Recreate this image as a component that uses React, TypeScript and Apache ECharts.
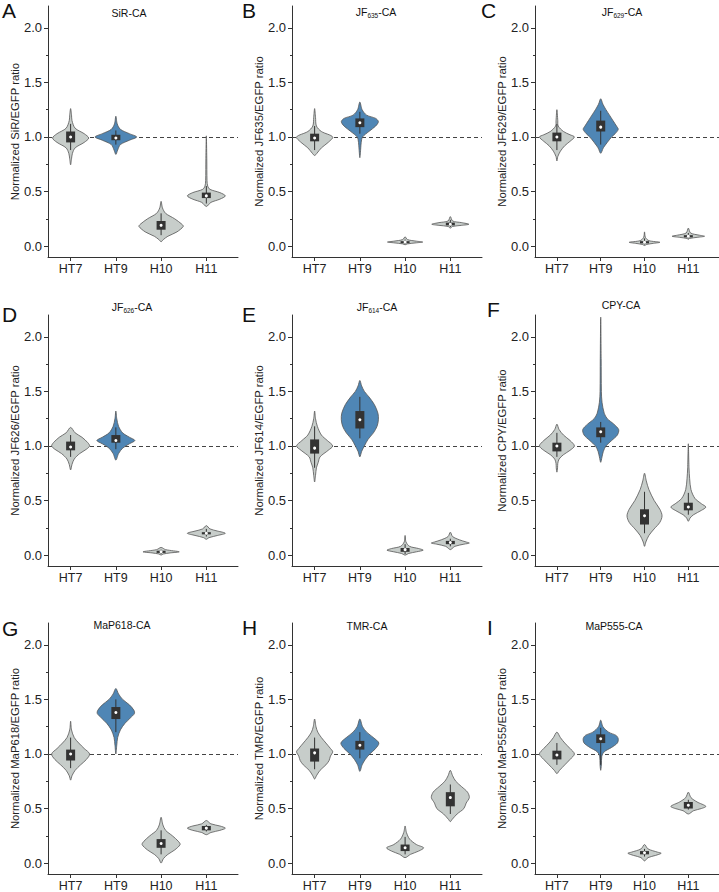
import React, { useEffect, useRef } from "react";
import * as echarts from "echarts";

const FONT = "'Liberation Sans', Arial, Helvetica, sans-serif";

// ---------- data ----------
const categories = ["HT7", "HT9", "H10", "H11"];
const highlighted = [false, true, false, false];
const panelLetters = ["A", "B", "C", "D", "E", "F", "G", "H", "I"];
const panelTitles = ["SiR-CA", "JF{s|635}-CA", "JF{s|629}-CA", "JF{s|626}-CA", "JF{s|614}-CA", "CPY-CA", "MaP618-CA", "TMR-CA", "MaP555-CA"];
const yAxisNames = [
  "Normalized SiR/EGFP ratio",
  "Normalized JF635/EGFP ratio",
  "Normalized JF629/EGFP ratio",
  "Normalized JF626/EGFP ratio",
  "Normalized JF614/EGFP ratio",
  "Normalized CPY/EGFP ratio",
  "Normalized MaP618/EGFP ratio",
  "Normalized TMR/EGFP ratio",
  "Normalized MaP555/EGFP ratio",
];
const yMajorTicks = [0, 0.5, 1, 1.5, 2];
const yMinorTicks = [0.25, 0.75, 1.25, 1.75];
const referenceRatio = 1.0;

// violin outlines: [ratio value, half width (category units)]
const profA = [
  [[1.26, 0], [1.2, 0.02], [1.15, 0.03], [1.08, 0.1], [1.03, 0.3], [0.99, 0.4], [0.95, 0.3], [0.9, 0.1], [0.85, 0.04], [0.8, 0.02], [0.745, 0]],
  [[1.19, 0], [1.12, 0.03], [1.07, 0.1], [1.03, 0.3], [1.0, 0.46], [0.97, 0.3], [0.93, 0.1], [0.88, 0.04], [0.84, 0]],
  [[0.41, 0], [0.35, 0.03], [0.3, 0.1], [0.25, 0.3], [0.2, 0.46], [0.18, 0.49], [0.13, 0.35], [0.09, 0.15], [0.06, 0.05], [0.04, 0]],
  [[1.01, 0], [0.8, 0.01], [0.6, 0.015], [0.55, 0.03], [0.52, 0.08], [0.49, 0.3], [0.46, 0.42], [0.43, 0.3], [0.4, 0.1], [0.363, 0]],
];
const profB = [
  [[1.26, 0], [1.18, 0.02], [1.1, 0.04], [1.05, 0.15], [1.0, 0.4], [0.95, 0.3], [0.9, 0.15], [0.85, 0.05], [0.83, 0]],
  [[1.32, 0], [1.25, 0.05], [1.2, 0.15], [1.17, 0.35], [1.14, 0.41], [1.1, 0.35], [1.05, 0.2], [1.0, 0.06], [0.95, 0.03], [0.9, 0.02], [0.81, 0]],
  [[0.085, 0], [0.06, 0.05], [0.045, 0.25], [0.037, 0.39], [0.03, 0.25], [0.02, 0.05], [0.012, 0]],
  [[0.27, 0], [0.23, 0.05], [0.215, 0.25], [0.2, 0.41], [0.19, 0.25], [0.18, 0.05], [0.165, 0]],
];
const profC = [
  [[1.25, 0], [1.15, 0.02], [1.1, 0.03], [1.05, 0.15], [1.02, 0.3], [1.0, 0.4], [0.96, 0.3], [0.92, 0.18], [0.87, 0.08], [0.82, 0.02], [0.78, 0]],
  [[1.35, 0], [1.3, 0.05], [1.25, 0.12], [1.2, 0.2], [1.15, 0.28], [1.1, 0.36], [1.07, 0.4], [1.03, 0.33], [1.0, 0.25], [0.95, 0.15], [0.9, 0.06], [0.85, 0]],
  [[0.13, 0], [0.08, 0.02], [0.05, 0.1], [0.035, 0.35], [0.025, 0.2], [0.015, 0.05], [0.005, 0]],
  [[0.165, 0], [0.12, 0.05], [0.1, 0.25], [0.09, 0.37], [0.08, 0.2], [0.07, 0.03], [0.062, 0]],
];
const profD = [
  [[1.17, 0], [1.12, 0.1], [1.08, 0.25], [1.03, 0.38], [1.0, 0.42], [0.97, 0.35], [0.93, 0.2], [0.88, 0.08], [0.83, 0.03], [0.78, 0]],
  [[1.32, 0], [1.25, 0.02], [1.18, 0.06], [1.12, 0.15], [1.08, 0.3], [1.05, 0.42], [1.02, 0.3], [0.98, 0.15], [0.93, 0.06], [0.87, 0]],
  [[0.07, 0], [0.05, 0.1], [0.03, 0.4], [0.02, 0.2], [0.01, 0.05], [0.0, 0]],
  [[0.27, 0], [0.24, 0.08], [0.22, 0.25], [0.2, 0.42], [0.18, 0.25], [0.16, 0.06], [0.145, 0]],
];
const profE = [
  [[1.32, 0], [1.25, 0.02], [1.18, 0.06], [1.1, 0.15], [1.05, 0.28], [1.0, 0.4], [0.96, 0.3], [0.9, 0.12], [0.85, 0.08], [0.8, 0.04], [0.73, 0.02], [0.67, 0]],
  [[1.6, 0], [1.55, 0.04], [1.5, 0.1], [1.45, 0.2], [1.38, 0.32], [1.3, 0.4], [1.24, 0.41], [1.18, 0.38], [1.12, 0.3], [1.06, 0.18], [1.0, 0.1], [0.95, 0.04], [0.9, 0]],
  [[0.18, 0], [0.12, 0.02], [0.08, 0.1], [0.06, 0.3], [0.045, 0.4], [0.03, 0.25], [0.015, 0.08], [0.0, 0]],
  [[0.21, 0], [0.17, 0.05], [0.14, 0.2], [0.12, 0.35], [0.11, 0.42], [0.1, 0.3], [0.08, 0.1], [0.06, 0.04], [0.05, 0]],
];
const profF = [
  [[1.2, 0], [1.15, 0.05], [1.1, 0.15], [1.05, 0.3], [1.0, 0.4], [0.96, 0.3], [0.92, 0.15], [0.88, 0.05], [0.84, 0.02], [0.8, 0.015], [0.76, 0]],
  [[2.18, 0], [1.8, 0.01], [1.5, 0.015], [1.4, 0.03], [1.3, 0.08], [1.25, 0.15], [1.2, 0.3], [1.15, 0.41], [1.1, 0.38], [1.05, 0.25], [1.0, 0.12], [0.95, 0.06], [0.9, 0.03], [0.85, 0]],
  [[0.75, 0], [0.68, 0.04], [0.6, 0.1], [0.5, 0.22], [0.42, 0.35], [0.36, 0.4], [0.3, 0.35], [0.24, 0.22], [0.18, 0.1], [0.12, 0.03], [0.08, 0]],
  [[1.02, 0], [0.8, 0.015], [0.7, 0.03], [0.6, 0.06], [0.52, 0.15], [0.47, 0.3], [0.44, 0.4], [0.41, 0.3], [0.37, 0.12], [0.34, 0.04], [0.31, 0]],
];
const profG = [
  [[1.3, 0], [1.22, 0.02], [1.15, 0.08], [1.1, 0.18], [1.05, 0.3], [1.0, 0.42], [0.95, 0.35], [0.9, 0.22], [0.85, 0.1], [0.8, 0.03], [0.76, 0]],
  [[1.6, 0], [1.55, 0.06], [1.5, 0.15], [1.45, 0.3], [1.4, 0.4], [1.37, 0.41], [1.33, 0.32], [1.28, 0.2], [1.22, 0.1], [1.15, 0.04], [1.08, 0.02], [1.0, 0]],
  [[0.42, 0], [0.35, 0.04], [0.3, 0.1], [0.25, 0.25], [0.2, 0.38], [0.17, 0.42], [0.12, 0.3], [0.08, 0.15], [0.04, 0.05], [0.0, 0]],
  [[0.39, 0], [0.36, 0.1], [0.34, 0.3], [0.32, 0.42], [0.3, 0.3], [0.28, 0.1], [0.26, 0]],
];
const profH = [
  [[1.32, 0], [1.25, 0.03], [1.2, 0.07], [1.15, 0.15], [1.1, 0.25], [1.05, 0.35], [1.02, 0.4], [0.98, 0.35], [0.94, 0.32], [0.9, 0.25], [0.85, 0.12], [0.8, 0.04], [0.77, 0]],
  [[1.32, 0], [1.25, 0.06], [1.2, 0.15], [1.15, 0.3], [1.1, 0.42], [1.05, 0.35], [1.0, 0.22], [0.95, 0.12], [0.9, 0.05], [0.84, 0]],
  [[0.34, 0], [0.28, 0.03], [0.22, 0.1], [0.17, 0.25], [0.14, 0.41], [0.11, 0.3], [0.08, 0.12], [0.05, 0]],
  [[0.85, 0], [0.8, 0.05], [0.75, 0.12], [0.7, 0.25], [0.65, 0.38], [0.6, 0.42], [0.55, 0.35], [0.5, 0.3], [0.45, 0.15], [0.4, 0.04], [0.38, 0]],
];
const profI = [
  [[1.2, 0], [1.15, 0.08], [1.1, 0.18], [1.05, 0.3], [1.0, 0.4], [0.95, 0.3], [0.9, 0.18], [0.85, 0.06], [0.82, 0]],
  [[1.31, 0], [1.25, 0.05], [1.2, 0.18], [1.17, 0.35], [1.14, 0.4], [1.1, 0.38], [1.06, 0.25], [1.02, 0.08], [0.98, 0.025], [0.9, 0.015], [0.85, 0]],
  [[0.17, 0], [0.13, 0.08], [0.1, 0.3], [0.09, 0.38], [0.07, 0.25], [0.05, 0.08], [0.02, 0]],
  [[0.65, 0], [0.6, 0.06], [0.56, 0.2], [0.52, 0.4], [0.5, 0.3], [0.48, 0.12], [0.45, 0]],
];

// box stats: [whisker low, Q1, mean, Q3, whisker high]
const boxA = [[0.88, 0.95, 1.0, 1.05, 1.12], [0.93, 0.97, 0.99, 1.02, 1.06], [0.1, 0.15, 0.19, 0.23, 0.3], [0.39, 0.44, 0.46, 0.49, 0.55]];
const boxB = [[0.88, 0.96, 0.99, 1.03, 1.1], [1.03, 1.09, 1.13, 1.17, 1.23], [0.02, 0.03, 0.037, 0.045, 0.06], [0.175, 0.19, 0.2, 0.215, 0.24]];
const boxC = [[0.88, 0.96, 1.0, 1.04, 1.12], [0.93, 1.05, 1.09, 1.15, 1.24], [0.015, 0.025, 0.035, 0.045, 0.07], [0.07, 0.08, 0.09, 0.1, 0.12]];
const boxD = [[0.9, 0.96, 0.99, 1.04, 1.1], [0.97, 1.03, 1.05, 1.1, 1.17], [0.01, 0.02, 0.03, 0.04, 0.05], [0.17, 0.19, 0.2, 0.21, 0.24]];
const boxE = [[0.8, 0.93, 0.98, 1.06, 1.18], [1.07, 1.16, 1.24, 1.32, 1.45], [0.01, 0.03, 0.05, 0.065, 0.1], [0.08, 0.1, 0.115, 0.13, 0.15]];
const boxF = [[0.9, 0.95, 1.0, 1.03, 1.12], [1.03, 1.08, 1.13, 1.17, 1.22], [0.2, 0.28, 0.36, 0.42, 0.58], [0.37, 0.41, 0.44, 0.48, 0.57]];
const boxG = [[0.87, 0.94, 1.0, 1.04, 1.15], [1.2, 1.32, 1.38, 1.43, 1.5], [0.08, 0.14, 0.18, 0.22, 0.3], [0.29, 0.3, 0.32, 0.34, 0.35]];
const boxH = [[0.86, 0.93, 1.01, 1.05, 1.15], [0.96, 1.04, 1.08, 1.12, 1.2], [0.08, 0.11, 0.14, 0.17, 0.24], [0.45, 0.52, 0.6, 0.65, 0.72]];
const boxI = [[0.9, 0.95, 0.99, 1.03, 1.1], [0.9, 1.1, 1.14, 1.18, 1.24], [0.06, 0.08, 0.095, 0.11, 0.13], [0.49, 0.5, 0.53, 0.56, 0.58]];

const panelProfiles = [profA, profB, profC, profD, profE, profF, profG, profH, profI];
const panelBoxes = [boxA, boxB, boxC, boxD, boxE, boxF, boxG, boxH, boxI];

// ---------- layout ----------
const colLeft = [48, 292, 535];
const rowTop = [6, 315, 623];
const GRID_W = 190;
const GRID_H = 251;
const titlePos = [[129, 13], [376, 12], [622, 12], [132, 307], [377, 307], [621, 305], [122, 625], [367, 626], [614, 626]];
const letterPos = [[2, 10], [242, 10], [481, 10], [2, 314], [242, 314], [487, 309], [2, 628], [242, 627], [487, 627]];

const GRAY = "#c7cdca";
const BLUE = "#4f86b5";
const TEXT = "#222";

function buildOption() {
  const grid: any[] = [];
  const xAxis: any[] = [];
  const yAxis: any[] = [];
  const series: any[] = [];
  panelTitles.forEach((_, i) => {
    const col = i % 3;
    const row = Math.floor(i / 3);
    grid.push({ left: colLeft[col], top: rowTop[row], width: GRID_W, height: GRID_H });
    xAxis.push({
      type: "value",
      gridIndex: i,
      min: 0.5,
      max: 4.7,
      axisLine: { show: true, onZero: false, lineStyle: { color: "#333", width: 1 } },
      axisTick: { show: true, customValues: [1, 2, 3, 4], length: 4, lineStyle: { color: "#333" } },
      axisLabel: {
        customValues: [1, 2, 3, 4],
        formatter: (v: number) => categories[Math.round(v) - 1] ?? "",
        color: TEXT,
        fontSize: 12.5,
        fontFamily: FONT,
        margin: 5,
      },
      splitLine: { show: false },
    });
    yAxis.push({
      type: "value",
      gridIndex: i,
      min: -0.1,
      max: 2.2,
      position: "left",
      axisLine: { show: true, onZero: false, lineStyle: { color: "#333", width: 1 } },
      axisTick: { show: true, customValues: yMajorTicks, length: 4, lineStyle: { color: "#333" } },
      axisLabel: {
        customValues: yMajorTicks,
        formatter: (v: number) => v.toFixed(1),
        color: TEXT,
        fontSize: 13,
        fontFamily: FONT,
        margin: 6,
      },
      splitLine: { show: false },
      name: yAxisNames[i],
      nameLocation: "middle",
      nameGap: 25,
      nameTextStyle: { color: TEXT, fontSize: 11.3, fontFamily: FONT },
    });
    yAxis.push({
      type: "value",
      gridIndex: i,
      min: -0.1,
      max: 2.2,
      position: "left",
      axisLine: { show: false, onZero: false },
      axisTick: { show: true, customValues: yMinorTicks, length: 2, lineStyle: { color: "#333" } },
      axisLabel: { show: false },
      splitLine: { show: false },
    });

    series.push({
      type: "line",
      xAxisIndex: i,
      yAxisIndex: 2 * i,
      data: [],
      z: 1,
      silent: true,
      markLine: {
        z: 1,
        silent: true,
        symbol: ["none", "none"],
        label: { show: false },
        lineStyle: { type: [4, 3], color: "#444", width: 1 },
        data: [{ yAxis: referenceRatio }],
      },
    });

    const profiles = panelProfiles[i];
    const boxes = panelBoxes[i];
    series.push({
      type: "custom",
      xAxisIndex: i,
      yAxisIndex: 2 * i,
      z: 3,
      silent: true,
      data: categories.map((_, k) => [k + 1, boxes[k][2]]),
      encode: { x: 0, y: 1 },
      renderItem: (params: any, api: any) => {
        const k = params.dataIndex;
        const cx = k + 1;
        const prof = profiles[k];
        const box = boxes[k];
        const right = prof.map(([v, w]: number[]) => api.coord([cx + w, v]));
        const left = prof
          .filter(([, w]: number[]) => w > 0)
          .slice()
          .reverse()
          .map(([v, w]: number[]) => api.coord([cx - w, v]));
        const points = right.concat(left);
        const center = api.coord([cx, box[2]]);
        const lo = api.coord([cx, box[0]]);
        const q1 = api.coord([cx, box[1]]);
        const q3 = api.coord([cx, box[3]]);
        const hi = api.coord([cx, box[4]]);
        const bw = 9;
        return {
          type: "group",
          children: [
            {
              type: "polygon",
              shape: { points, smooth: 0.3 },
              style: { fill: highlighted[k] ? BLUE : GRAY, stroke: "#555", lineWidth: 0.8 },
            },
            {
              type: "line",
              shape: { x1: center[0], y1: lo[1], x2: center[0], y2: hi[1] },
              style: { stroke: "#333", lineWidth: 1 },
            },
            {
              type: "rect",
              shape: { x: center[0] - bw / 2, y: q3[1], width: bw, height: Math.max(q1[1] - q3[1], 2) },
              style: { fill: "#333" },
            },
            {
              type: "circle",
              shape: { cx: center[0], cy: center[1], r: 1.5 },
              style: { fill: "#fff" },
            },
          ],
        };
      },
    });
  });

  const graphic: any[] = [];
  panelLetters.forEach((L, i) => {
    graphic.push({
      type: "text",
      x: letterPos[i][0],
      y: letterPos[i][1],
      style: { text: L, fontSize: 21, fontFamily: FONT, fill: "#111", align: "left", verticalAlign: "middle" },
    });
  });
  panelTitles.forEach((t, i) => {
    graphic.push({
      type: "text",
      x: titlePos[i][0],
      y: titlePos[i][1],
      style: {
        text: t,
        fontSize: 10.5,
        lineHeight: 13,
        fontFamily: FONT,
        fill: "#111",
        align: "center",
        verticalAlign: "middle",
        rich: { s: { fontSize: 6.5, lineHeight: 4, verticalAlign: "bottom", fontFamily: FONT, fill: "#111" } },
      },
    });
  });

  return {
    animation: false,
    backgroundColor: "#ffffff",
    grid,
    xAxis,
    yAxis,
    series,
    graphic,
  };
}

export default function App() {
  const ref = useRef<HTMLDivElement>(null);
  useEffect(() => {
    if (!ref.current) return;
    const chart = echarts.init(ref.current, undefined, { renderer: "svg" });
    chart.setOption(buildOption() as any);
    return () => chart.dispose();
  }, []);
  return (
    <div
      ref={ref}
      style={{ position: "fixed", left: 0, top: 0, width: 719, height: 892, background: "#fff" }}
    />
  );
}
